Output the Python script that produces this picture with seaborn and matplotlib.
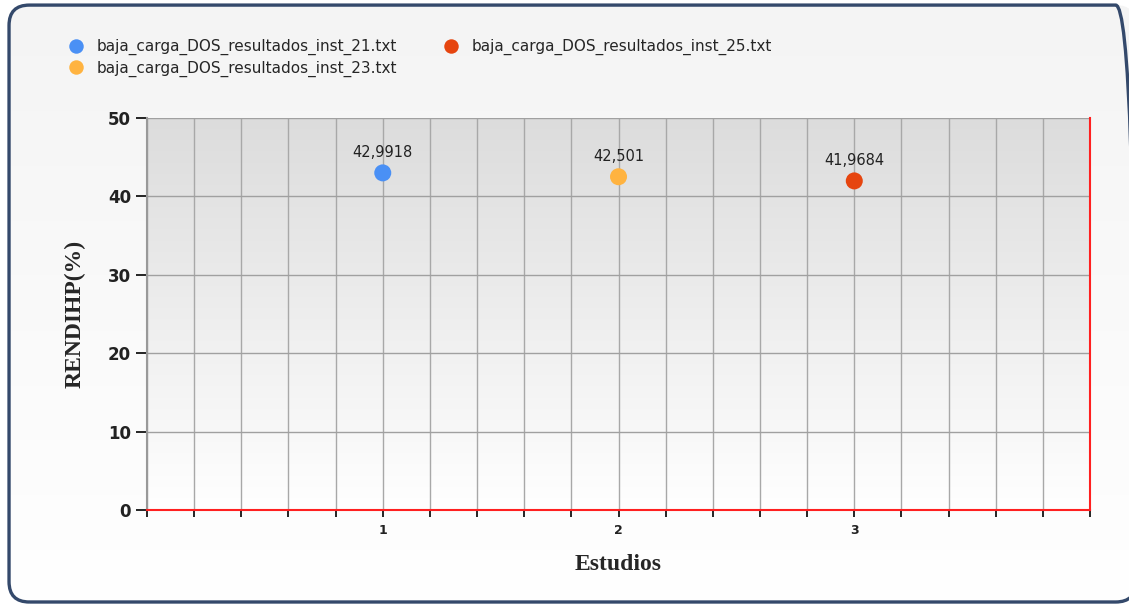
import numpy as np
import pandas as pd
import matplotlib
matplotlib.use("Agg")
import matplotlib.pyplot as plt
import matplotlib.ticker as ticker
from matplotlib.patches import FancyBboxPatch
import seaborn as sns

# data
series = ["baja_carga_DOS_resultados_inst_21.txt",
          "baja_carga_DOS_resultados_inst_23.txt",
          "baja_carga_DOS_resultados_inst_25.txt"]
estudios = [1, 2, 3]
rendihp = [42.9918, 42.501, 41.9684]
labels = ["42,9918", "42,501", "41,9684"]
colors = ["#4a90f5", "#ffb340", "#e6450f"]

df = pd.DataFrame({"Estudios": estudios, "RENDIHP": rendihp, "serie": series})

sns.set_theme(style="white")
plt.rcParams["font.family"] = ["DejaVu Sans"]

fig = plt.figure(figsize=(11.29, 6.06), dpi=100)
fig.patch.set_facecolor("white")

# figure background with rounded frame
bg = fig.add_axes([0, 0, 1, 1], zorder=-10)
bg.set_xlim(0, 1)
bg.set_ylim(0, 1)
bg.axis("off")
grad = np.linspace(0, 1, 256).reshape(-1, 1)
im = bg.imshow(grad, extent=[0, 1, 0, 1], aspect="auto", origin="lower",
               cmap=matplotlib.colors.LinearSegmentedColormap.from_list(
                   "bgc", ["#ffffff", "#f4f4f4"]))
frame = FancyBboxPatch((0.008, 0.0066), 0.9982, 0.985,
                       boxstyle="round,pad=0,rounding_size=0.018",
                       mutation_aspect=1129 / 606,
                       facecolor="none", edgecolor="#34496b", linewidth=2.4,
                       transform=bg.transAxes, clip_on=False)
bg.add_patch(frame)
im.set_clip_path(frame)

ax = fig.add_axes([0.1302, 0.1584, 0.8353, 0.647])
ax.set_facecolor("none")

# gray (top) to white (bottom) gradient in plot area
ax.imshow(np.linspace(0, 1, 256).reshape(-1, 1), extent=[0, 4, 0, 50],
          aspect="auto", origin="lower", zorder=0,
          cmap=matplotlib.colors.LinearSegmentedColormap.from_list(
              "pc", ["#ffffff", "#dcdcdc"]))

sns.scatterplot(data=df, x="Estudios", y="RENDIHP", hue="serie",
                palette=colors, s=150, edgecolor="none", ax=ax, zorder=5)

for x, y, t in zip(estudios, rendihp, labels):
    ax.annotate(t, (x, y), xytext=(0, 9), textcoords="offset points",
                ha="center", va="bottom", fontsize=10.5, color="#222222",
                zorder=6)

ax.set_xlim(0, 4)
ax.set_ylim(0, 50)
ax.xaxis.set_major_locator(ticker.FixedLocator([1, 2, 3]))
ax.xaxis.set_minor_locator(ticker.MultipleLocator(0.2))
ax.yaxis.set_major_locator(ticker.MultipleLocator(10))
ax.grid(which="both", axis="x", color="#a8a8a8", linewidth=1.0, zorder=1)
ax.grid(which="major", axis="y", color="#a0a0a0", linewidth=1.0, zorder=1)
ax.set_axisbelow(True)

ax.tick_params(axis="x", which="both", direction="out", length=5, width=1.2,
               color="black", labelsize=9, pad=5, bottom=True)
ax.tick_params(axis="y", which="major", direction="out", length=8, width=1.2,
               color="black", labelsize=12, left=True)
for lab in ax.get_xticklabels() + ax.get_yticklabels():
    lab.set_fontweight("bold")
    lab.set_color("#222222")

ax.spines["top"].set_visible(False)
ax.spines["left"].set_color("#999999")
ax.spines["left"].set_linewidth(1.5)
ax.spines["bottom"].set_color("#ff2020")
ax.spines["bottom"].set_linewidth(1.5)
ax.spines["right"].set_color("#ff2020")
ax.spines["right"].set_linewidth(1.5)

ax.set_xlabel("Estudios", family=["Liberation Serif"], fontsize=17,
              fontweight="bold", labelpad=12)
ax.set_ylabel("RENDIHP(%)", family=["Liberation Serif"], fontsize=17,
              fontweight="bold", labelpad=16)

leg = ax.legend(loc="upper left", bbox_to_anchor=(-0.0975, 1.217), ncol=2,
                frameon=False, fontsize=11, markerscale=0.85,
                handletextpad=0.35, columnspacing=2.5, labelspacing=0.35,
                borderaxespad=0)

fig.savefig("out.png", dpi=100)
